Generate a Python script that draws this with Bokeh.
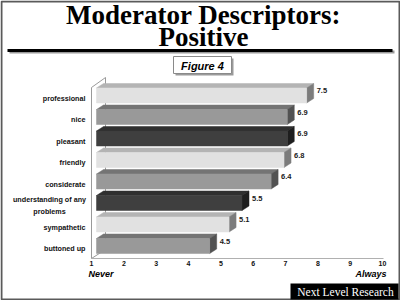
from bokeh.plotting import figure
from bokeh.models import Range1d
from bokeh.core.properties import value
from bokeh.embed import file_html
from bokeh.resources import INLINE

# ---- data ----
categories = ["professional", "nice", "pleasant", "friendly", "considerate",
              "understanding of any\nproblems", "sympathetic", "buttoned up"]
values = [7.5, 6.9, 6.9, 6.8, 6.4, 5.5, 5.1, 4.5]
tick_values = [1, 2, 3, 4, 5, 6, 7, 8, 9, 10]
tick_labels = ["1", "2", "3", "4", "5", "6", "7", "8", "9", "10"]
low_label = "Never"
high_label = "Always"
title_lines = ["Moderator Descriptors:", "Positive"]
figure_label = "Figure 4"
source_label = "Next Level Research"

# ---- styles ----
shade_cycle = [
    ("#e1e1e1", "#b4b4b4", "#7c7c7c"),   # light: front, top, side
    ("#999999", "#747474", "#525252"),   # mid
    ("#3f3f3f", "#2f2f2f", "#1e1e1e"),   # dark
]
W, H = 400, 300
U = 32.333          # px per value unit
Y0, DY = 97.0, 21.5  # px of first category, px per category
h = 1.0 / DY
FRONT_DX = 5 / U
SIDE_DX = 7 / U

p = figure(width=W, height=H, output_backend="svg", toolbar_location=None,
           x_range=Range1d(1 - 91 / U, 1 + (W - 91) / U),
           y_range=Range1d((H - Y0) / DY, -Y0 / DY),
           min_border=0, outline_line_color=None, background_fill_color="white")
p.axis.visible = False
p.grid.visible = False
p.extra_x_ranges = {"px": Range1d(0, W)}
p.extra_y_ranges = {"px": Range1d(H, 0)}
PX = dict(x_range_name="px", y_range_name="px")

# slide border
p.quad(left=1, right=W - 1, top=1, bottom=H - 1, fill_color=None,
       line_color="#5a5a5a", line_width=2, **PX)

# title
p.text(x=[203, 203], y=[14, 36], text=title_lines, text_align="center",
       text_baseline="middle", text_font=value("Liberation Serif"),
       text_font_style="bold", text_font_size="27px", text_color="black", **PX)
# rule
p.quad(left=9, right=394, top=50, bottom=53, fill_color="#9a9a9a", line_color=None, **PX)
p.quad(left=7, right=392, top=48.5, bottom=51.5, fill_color="black", line_color=None, **PX)

# figure label box
p.quad(left=175, right=233, top=58, bottom=75, fill_color="#9a9a9a", line_color=None, **PX)
p.quad(left=173, right=231, top=56, bottom=73, fill_color="white",
       line_color="#8a8a8a", line_width=1, **PX)
p.text(x=[202], y=[65], text=[figure_label], text_align="center", text_baseline="middle",
       text_font=value("Liberation Sans"), text_font_style="bold italic",
       text_font_size="11px", text_color="black", **PX)

# left wall and floor
p.patch(x=[91, 91, 105, 105], y=[258, 87, 77, 249], fill_color="white",
        line_color="#9a9a9a", line_width=1, **PX)
p.line(x=[91, 383], y=[258, 258], line_color="#b0b0b0", line_width=1.2, **PX)

# bars (3D)
n = len(values)
idx = list(range(n))
fronts, tops, sides = [], [], []
for i in idx:
    fronts.append(shade_cycle[i % 3][0])
    tops.append(shade_cycle[i % 3][1])
    sides.append(shade_cycle[i % 3][2])
L = [tick_values[0] + FRONT_DX] * n
R = [v + FRONT_DX for v in values]
top_xs = [[L[i], R[i], R[i] + SIDE_DX, L[i] + SIDE_DX] for i in idx]
top_ys = [[i - 9.5 * h, i - 9.5 * h, i - 14 * h, i - 14 * h] for i in idx]
side_xs = [[R[i], R[i] + SIDE_DX, R[i] + SIDE_DX, R[i]] for i in idx]
side_ys = [[i - 9.5 * h, i - 14 * h, i + 1 * h, i + 5.5 * h] for i in idx]
p.patches(xs=top_xs, ys=top_ys, fill_color=tops, line_color=tops, line_width=0.5)
p.patches(xs=side_xs, ys=side_ys, fill_color=sides, line_color=sides, line_width=0.5)
p.quad(left=L, right=R, top=[i - 9.5 * h for i in idx], bottom=[i + 5.5 * h for i in idx],
       fill_color=fronts, line_color=fronts, line_width=0.5)

# value labels
p.text(x=[v + 15 / U for v in values], y=[i - 7 * h for i in idx],
       text=[f"{v:.1f}" for v in values], text_align="left", text_baseline="middle",
       text_font=value("Liberation Sans"), text_font_style="bold",
       text_font_size="7.5px", text_color="#1a1a1a")

# category labels
single = [i for i in idx if "\n" not in categories[i]]
multi = [i for i in idx if "\n" in categories[i]]
lab_x = tick_values[0] - 6 / U
p.text(x=[lab_x] * len(single), y=[i + 0.5 * h for i in single],
       text=[categories[i] for i in single], text_align="right", text_baseline="middle",
       text_font=value("Liberation Sans"), text_font_style="bold",
       text_font_size="7.2px", text_color="#111111")
p.text(x=[tick_values[0] - 42 / U] * len(multi), y=[i + 0.5 * h for i in multi],
       text=[categories[i] for i in multi], text_align="center", text_baseline="middle",
       text_font=value("Liberation Sans"), text_font_style="bold",
       text_font_size="7.2px", text_color="#111111", text_line_height=1.35)

# tick labels
p.text(x=tick_values, y=[263] * len(tick_values), text=tick_labels,
       text_align="center", text_baseline="middle", y_range_name="px",
       text_font=value("Liberation Sans"), text_font_style="bold",
       text_font_size="7px", text_color="#111111")
p.text(x=[tick_values[0] - 3 / U], y=[273], text=[low_label], text_align="left",
       text_baseline="middle", y_range_name="px", text_font=value("Liberation Sans"),
       text_font_style="bold italic", text_font_size="9px", text_color="black")
p.text(x=[tick_values[-1] + 4 / U], y=[273], text=[high_label], text_align="right",
       text_baseline="middle", y_range_name="px", text_font=value("Liberation Sans"),
       text_font_style="bold italic", text_font_size="9px", text_color="black")

# source box
p.quad(left=290, right=398, top=283, bottom=299, fill_color="black", line_color=None, **PX)
p.text(x=[345], y=[291.5], text=[source_label], text_align="center", text_baseline="middle",
       text_font=value("Liberation Serif"), text_font_size="11.5px", text_color="white", **PX)

open("out.html", "w").write(file_html(p, INLINE))
